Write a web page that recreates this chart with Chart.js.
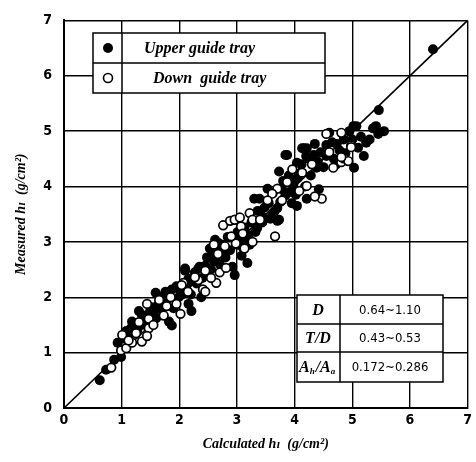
<!DOCTYPE html>
<html>
<head>
<meta charset="utf-8">
<script src="https://cdn.jsdelivr.net/npm/chart.js@4/dist/chart.umd.min.js"></script>
<style>
  html, body { margin: 0; padding: 0; background: #fff; }
  #wrap { width: 476px; height: 462px; }
</style>
</head>
<body>
<div id="wrap"><canvas id="plot" width="476" height="462"></canvas></div>
<script>
// axis ticks
const tickValues = [0, 1, 2, 3, 4, 5, 6, 7];

// Upper guide tray (filled circles)
const upperX = [0.62, 0.73, 0.87, 0.99, 0.93, 1.08, 1.16, 1.27, 1.18, 1.39, 1.56, 1.82, 1.87, 1.68, 1.51, 1.59, 1.76, 1.99, 2.16, 2.21,
  1.87, 2.10, 2.27, 2.38, 2.62, 2.53, 2.45, 2.84, 3.01, 3.13, 3.18, 2.96, 2.33, 2.16, 2.10, 3.30, 3.32, 3.84, 3.73, 4.16,
  4.04, 4.33, 3.53, 3.39, 3.84, 4.21, 4.04, 3.70, 3.36, 3.61, 3.73, 3.44, 3.70, 4.35, 5.46, 6.40, 5.55, 5.41, 5.07, 5.02,
  4.60, 4.21, 4.13, 3.87, 4.73, 5.24, 5.03, 4.38, 5.36, 1.05, 1.12, 1.22, 1.30, 1.35, 1.45, 1.48, 1.62, 1.70, 1.78, 1.90,
  1.95, 2.05, 2.12, 2.20, 2.30, 2.40, 2.48, 2.55, 2.60, 2.65, 2.70, 2.75, 2.80, 2.88, 2.92, 3.00, 3.05, 3.08, 3.15, 3.22,
  3.25, 3.35, 3.40, 3.48, 3.55, 3.58, 3.62, 3.65, 3.78, 3.80, 3.90, 3.92, 3.98, 4.02, 4.10, 4.12, 4.18, 4.25, 4.28, 4.40,
  4.45, 4.50, 4.55, 4.65, 4.68, 4.78, 4.85, 4.88, 4.95, 5.10, 5.15, 5.20, 5.30, 5.45, 4.42, 3.95,
  1.15, 1.35, 1.60, 1.72, 2.00, 2.25, 2.35, 2.58, 2.68, 2.78, 2.95, 3.10, 3.20, 3.45, 3.75, 4.05, 4.20, 4.55, 4.72, 5.00];
const upperY = [0.50, 0.69, 0.87, 0.92, 1.18, 1.39, 1.44, 1.39, 1.56, 1.61, 1.70, 1.56, 1.49, 2.00, 1.82, 2.08, 2.10, 2.00, 1.88, 1.75,
  2.14, 2.48, 2.45, 2.00, 3.04, 2.88, 2.57, 3.09, 3.18, 3.26, 2.62, 2.40, 2.52, 2.34, 2.52, 3.78, 3.18, 4.57, 4.27, 4.69,
  4.43, 4.57, 3.96, 3.78, 3.84, 3.78, 3.65, 3.61, 3.56, 3.47, 3.40, 3.35, 3.38, 4.77, 5.38, 6.48, 5.00, 5.09, 5.09, 5.09,
  4.97, 4.69, 4.69, 4.57, 4.77, 4.79, 4.34, 4.34, 5.05, 1.25, 1.30, 1.50, 1.75, 1.50, 1.55, 1.72, 1.85, 1.78, 1.95, 1.80,
  2.20, 2.05, 2.20, 2.05, 2.25, 2.35, 2.72, 2.50, 2.65, 2.85, 2.60, 2.95, 2.72, 2.85, 2.55, 2.95, 3.05, 2.75, 3.02, 2.95,
  3.35, 3.25, 3.55, 3.62, 3.70, 3.42, 3.88, 3.55, 3.95, 4.10, 4.20, 3.90, 4.05, 3.85, 4.25, 4.40, 4.00, 4.50, 4.20, 4.45,
  4.62, 4.35, 4.55, 4.80, 4.50, 4.65, 4.85, 4.60, 5.00, 4.70, 4.90, 4.55, 4.85, 4.95, 3.95, 3.70,
  1.35, 1.68, 1.62, 1.90, 2.15, 2.30, 2.55, 2.78, 2.98, 2.80, 3.08, 2.90, 3.12, 3.45, 3.72, 4.15, 4.55, 4.75, 4.40, 4.85];

// Down guide tray (open circles)
const downX = [0.82, 0.99, 1.08, 1.01, 1.18, 1.35, 1.47, 1.44, 1.47, 1.73, 1.78, 1.44, 1.95, 2.02, 2.07, 2.33, 2.41, 2.45, 2.76, 2.88,
  2.96, 3.05, 3.22, 2.67, 2.79, 2.98, 3.13, 3.27, 2.70, 2.81, 2.27, 2.64, 2.45, 2.04, 3.27, 3.96, 4.13, 3.87, 3.70, 3.61,
  3.53, 4.08, 4.21, 3.78, 3.66, 4.47, 4.35, 4.81, 4.81, 4.55, 4.60, 4.85, 4.98, 4.93, 4.67, 3.07, 1.25, 1.55, 1.65, 1.85,
  2.15, 2.55, 2.60, 2.90, 3.10, 3.40, 1.12, 1.30, 4.30, 4.98, 4.81];
const downY = [0.73, 1.04, 1.08, 1.32, 1.18, 1.20, 1.44, 1.30, 1.61, 1.67, 1.84, 1.88, 1.88, 1.70, 2.26, 2.31, 2.14, 2.48, 3.30, 3.38,
  3.40, 3.44, 3.52, 2.78, 2.92, 2.97, 2.88, 3.00, 2.45, 2.53, 2.36, 2.26, 2.10, 2.22, 3.40, 4.31, 4.25, 4.08, 3.96, 3.87,
  3.75, 3.92, 4.01, 3.75, 3.10, 3.78, 3.82, 4.44, 4.97, 4.95, 4.62, 4.51, 4.74, 4.46, 4.34, 3.28, 1.35, 1.50, 1.95, 2.00,
  2.10, 2.35, 2.95, 3.10, 3.15, 3.40, 1.22, 1.55, 4.40, 4.71, 4.53];

// diagonal reference line
const lineX = [0, 7];
const lineY = [0, 7];

const legendLabels = ['Upper guide tray', 'Down  guide tray'];
const tableKeys = ['D', 'T/D', 'Ah/Aa'];
const tableRanges = ['0.64\u223C1.10', '0.43\u223C0.53', '0.172\u223C0.286'];

const toPts = (xs, ys) => xs.map((x, i) => ({ x: x, y: ys[i] }));

const serifBI = 'italic bold 16px "Liberation Serif", "DejaVu Serif", serif';

const overlay = {
  id: 'overlay',
  afterDatasetsDraw(chart) {
    const ctx = chart.ctx;
    ctx.save();
    ctx.strokeStyle = '#000';
    ctx.lineWidth = 1.5;
    ctx.fillStyle = '#000';

    // legend box
    const lx = 93, ly = 33, lw = 232, lh = 60, col = 122;
    ctx.fillStyle = '#fff';
    ctx.fillRect(lx, ly, lw, lh);
    ctx.strokeRect(lx, ly, lw, lh);
    ctx.beginPath();
    ctx.moveTo(lx, ly + lh / 2); ctx.lineTo(lx + lw, ly + lh / 2);
    ctx.moveTo(col, ly); ctx.lineTo(col, ly + lh);
    ctx.stroke();
    // symbols
    ctx.beginPath(); ctx.arc(108, 48, 5, 0, Math.PI * 2);
    ctx.fillStyle = '#000'; ctx.fill();
    ctx.beginPath(); ctx.arc(108, 78, 4.5, 0, Math.PI * 2);
    ctx.fillStyle = '#fff'; ctx.fill(); ctx.lineWidth = 1.6; ctx.stroke();
    ctx.fillStyle = '#000';
    ctx.font = serifBI;
    ctx.textBaseline = 'middle';
    ctx.textAlign = 'left';
    ctx.fillText(legendLabels[0], 144, 49);
    ctx.fillText(legendLabels[1], 153, 79);

    // parameter table
    const tx = 297, ty = 295, tw = 146, th = 87, tcol = 340;
    const rows = [295, 324, 352, 382];
    ctx.fillStyle = '#fff';
    ctx.fillRect(tx, ty, tw, th);
    ctx.lineWidth = 1.5;
    ctx.strokeRect(tx, ty, tw, th);
    ctx.beginPath();
    ctx.moveTo(tcol, ty); ctx.lineTo(tcol, ty + th);
    ctx.moveTo(tx, rows[1]); ctx.lineTo(tx + tw, rows[1]);
    ctx.moveTo(tx, rows[2]); ctx.lineTo(tx + tw, rows[2]);
    ctx.stroke();
    ctx.fillStyle = '#000';
    for (let i = 0; i < 3; i++) {
      const cy = (rows[i] + rows[i + 1]) / 2 + 1;
      ctx.textAlign = 'center';
      ctx.font = serifBI;
      if (i < 2) {
        ctx.fillText(tableKeys[i], 318, cy);
      } else {
        // A_h / A_a with subscripts
        ctx.textAlign = 'left';
        let x = 299;
        ctx.font = serifBI;
        ctx.fillText('A', x, cy); x += ctx.measureText('A').width;
        ctx.font = 'italic bold 9px "Liberation Serif", serif';
        ctx.fillText('h', x, cy + 4); x += ctx.measureText('h').width + 1;
        ctx.font = serifBI;
        ctx.fillText('/A', x, cy); x += ctx.measureText('/A').width;
        ctx.font = 'italic bold 9px "Liberation Serif", serif';
        ctx.fillText('a', x, cy + 4);
      }
      ctx.textAlign = 'center';
      ctx.font = '13px "Liberation Sans Narrow", "DejaVu Sans Condensed", sans-serif';
      ctx.fillText(tableRanges[i], 390, cy);
    }
    ctx.restore();
  }
};

const tickFont = { family: '"Liberation Sans Narrow", "DejaVu Sans Condensed", sans-serif', size: 14, weight: 'bold' };
const titleFont = { family: '"Liberation Serif", "DejaVu Serif", serif', size: 14, weight: 'bold', style: 'italic' };

new Chart(document.getElementById('plot'), {
  type: 'scatter',
  data: {
    datasets: [
      {
        label: 'Upper guide tray',
        data: toPts(upperX, upperY),
        pointRadius: 5,
        pointBackgroundColor: '#000',
        pointBorderColor: '#000',
        pointBorderWidth: 0,
        order: 1
      },
      {
        label: 'Down guide tray',
        data: toPts(downX, downY),
        pointRadius: 4.3,
        pointBackgroundColor: '#fff',
        pointBorderColor: '#000',
        pointBorderWidth: 1.7,
        order: 0
      },
      {
        type: 'line',
        label: 'diagonal',
        data: toPts(lineX, lineY),
        borderColor: '#000',
        borderWidth: 1.6,
        pointRadius: 0,
        order: 3
      }
    ]
  },
  options: {
    responsive: false,
    animation: false,
    layout: { padding: { top: 5, right: 3, left: 0, bottom: 0 } },
    plugins: { legend: { display: false }, tooltip: { enabled: false } },
    scales: {
      x: {
        type: 'linear', min: 0, max: 7,
        afterBuildTicks: s => { s.ticks = tickValues.map(v => ({ value: v })); },
        afterFit: s => { s.height = 54; },
        grid: { color: '#000', lineWidth: 1.4, drawTicks: false },
        border: { color: '#000', width: 2 },
        ticks: { color: '#000', font: tickFont, padding: 4, maxRotation: 0 },
        title: { display: true, text: 'Calculated h\u2097  (g/cm\u00B2)', color: '#000', font: titleFont, padding: { top: 0, bottom: 9 } }
      },
      y: {
        type: 'linear', min: 0, max: 7,
        afterBuildTicks: s => { s.ticks = tickValues.map(v => ({ value: v })); },
        afterFit: s => { s.width = 64; },
        grid: { color: '#000', lineWidth: 1.4, drawTicks: false },
        border: { color: '#000', width: 2 },
        ticks: { color: '#000', font: tickFont, padding: 12 },
        title: { display: true, text: 'Measured h\u2097  (g/cm\u00B2)', color: '#000', font: titleFont, padding: { top: 13, bottom: 0 } }
      }
    }
  },
  plugins: [overlay]
});
</script>
</body>
</html>
